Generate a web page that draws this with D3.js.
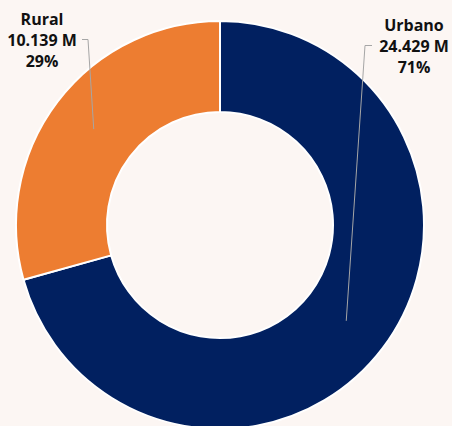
<!DOCTYPE html>
<html>
<head>
<meta charset="utf-8">
<script src="https://cdn.jsdelivr.net/npm/d3@7"></script>
<style>
  html, body { margin: 0; padding: 0; background: #fcf6f3; }
  svg { display: block; }
</style>
</head>
<body>
<div id="chart"></div>
<script>
// data
const categories = ["Urbano", "Rural"];
const values = [24.429, 10.139];          // millones
const colors = ["#012060", "#ED7D31"];

const width = 452;
const height = 426;
const cx = 220;
const cy = 225;
const outerRadius = 204;
const innerRadius = 113;

const data = categories.map((c, i) => ({ name: c, value: values[i] }));
const total = d3.sum(values);

const svg = d3.select("#chart").append("svg")
    .attr("width", width)
    .attr("height", height)
    .attr("viewBox", [0, 0, width, height]);

const g = svg.append("g")
    .attr("transform", `translate(${cx},${cy})`);

const pie = d3.pie()
    .sort(null)
    .value(d => d.value);

const arc = d3.arc()
    .innerRadius(innerRadius)
    .outerRadius(outerRadius);

const arcs = pie(data);

g.selectAll("path.slice")
    .data(arcs)
    .join("path")
    .attr("class", "slice")
    .attr("fill", (d, i) => colors[i])
    .attr("stroke", "#ffffff")
    .attr("stroke-width", 2)
    .attr("stroke-linejoin", "round")
    .attr("d", arc);

// label placement (Power BI style, outside at the top)
const labelPos = {
    "Urbano": { x: 194, y: -194, side: "left" },
    "Rural":  { x: -178, y: -200, side: "right" }
};

const fmt = d3.format(".3f");
const lineH = 21;

arcs.forEach(d => {
    const p = labelPos[d.data.name];
    const [x0, y0] = arc.centroid(d);
    const lineY = p.y + lineH - 6.5;
    // leader line
    const elbowX = p.side === "left" ? p.x - 49 : p.x + 46;
    const tickX = p.side === "left" ? elbowX + 7 : elbowX - 6;
    g.append("path")
        .attr("fill", "none")
        .attr("stroke", "#a6a6a6")
        .attr("stroke-width", 1)
        .attr("d", `M${x0},${y0}L${elbowX},${lineY}L${tickX},${lineY}`);

    const t = g.append("text")
        .attr("x", p.x)
        .attr("y", p.y)
        .attr("text-anchor", "middle")
        .attr("font-family", "'Open Sans', 'Noto Sans', sans-serif")
        .attr("font-weight", "bold")
        .attr("font-size", 16)
        .attr("fill", "#111111");
    t.append("tspan").attr("x", p.x).attr("dy", 0).text(d.data.name);
    t.append("tspan").attr("x", p.x).attr("dy", lineH).text(fmt(d.data.value) + " M");
    t.append("tspan").attr("x", p.x).attr("dy", lineH).text(Math.round(d.data.value / total * 100) + "%");
});
</script>
</body>
</html>
